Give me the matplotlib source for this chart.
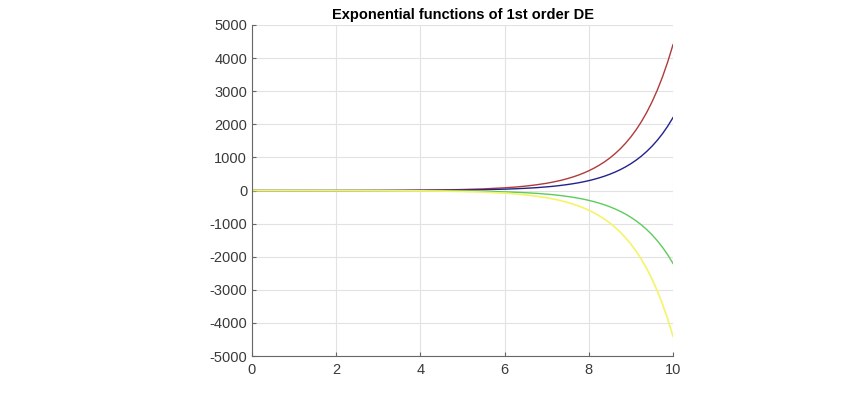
import matplotlib
matplotlib.use("Agg")
import matplotlib.pyplot as plt

plt.rcParams['font.family'] = ['Liberation Sans', 'DejaVu Sans']
plt.rcParams['axes.unicode_minus'] = False

# sample points
x = [0, 0.5, 1, 1.5, 2, 2.5, 3, 3.5, 4, 4.5, 5, 5.5, 6, 6.25, 6.5, 6.75,
     7, 7.125, 7.25, 7.375, 7.5, 7.625, 7.75, 7.875, 8, 8.125, 8.25, 8.375,
     8.5, 8.625, 8.75, 8.875, 9, 9.125, 9.25, 9.375, 9.5, 9.625, 9.75, 9.875, 10]
red = [0.2, 0.33, 0.54, 0.9, 1.48, 2.44, 4.0, 6.6, 10.9, 18, 29.7, 49, 81, 103, 133, 171,
       219, 249, 282, 319, 362, 410, 464, 526, 596, 676, 766, 867,
       983, 1114, 1262, 1430, 1621, 1836, 2081, 2358, 2672, 3027, 3430, 3887, 4405]
blue = [0.1, 0.16, 0.27, 0.45, 0.74, 1.2, 2.0, 3.3, 5.5, 9, 15, 24, 40, 52, 67, 85,
        110, 124, 141, 160, 181, 205, 232, 263, 298, 338, 383, 434,
        492, 557, 631, 715, 810, 918, 1040, 1179, 1336, 1514, 1715, 1944, 2203]
green = [-0.1, -0.16, -0.27, -0.45, -0.74, -1.2, -2.0, -3.3, -5.5, -9, -15, -24, -40, -52, -67, -85,
         -110, -124, -141, -160, -181, -205, -232, -263, -298, -338, -383, -434,
         -492, -557, -631, -715, -810, -918, -1040, -1179, -1336, -1514, -1715, -1944, -2203]
yellow = [-0.2, -0.33, -0.54, -0.9, -1.48, -2.44, -4.0, -6.6, -10.9, -18, -29.7, -49, -81, -103, -133, -171,
          -219, -249, -282, -319, -362, -410, -464, -526, -596, -676, -766, -867,
          -983, -1114, -1262, -1430, -1621, -1836, -2081, -2358, -2672, -3027, -3430, -3887, -4405]

xticks = [0, 2, 4, 6, 8, 10]
yticks = [-5000, -4000, -3000, -2000, -1000, 0, 1000, 2000, 3000, 4000, 5000]

fig = plt.figure(figsize=(8.48, 3.93), dpi=100)
ax = fig.add_axes([252/848, 1-356/393, (673-252)/848, (356-25)/393])

ax.plot(x, red, color='#b03a3a', lw=1)
ax.plot(x, blue, color='#22228c', lw=1)
ax.plot(x, green, color='#5ccc5c', lw=1)
ax.plot(x, yellow, color='#f4f46a', lw=1.2)

ax.set_xlim(0, 10)
ax.set_ylim(-5000, 5000)
ax.set_xticks(xticks)
ax.set_yticks(yticks)
ax.grid(True, color='#e2e2e2', lw=0.8)
ax.set_axisbelow(True)
for s in ['top', 'right']:
    ax.spines[s].set_visible(False)
for s in ['left', 'bottom']:
    ax.spines[s].set_color('#666666')
ax.tick_params(direction='in', length=3, colors='#666666', labelcolor='#3a3a3a', labelsize=10.5)
ax.tick_params(axis='x', pad=5)
ax.set_title("Exponential functions of 1st order DE", fontsize=10.5, fontweight='bold', pad=4)

fig.savefig("out.png", dpi=100)
